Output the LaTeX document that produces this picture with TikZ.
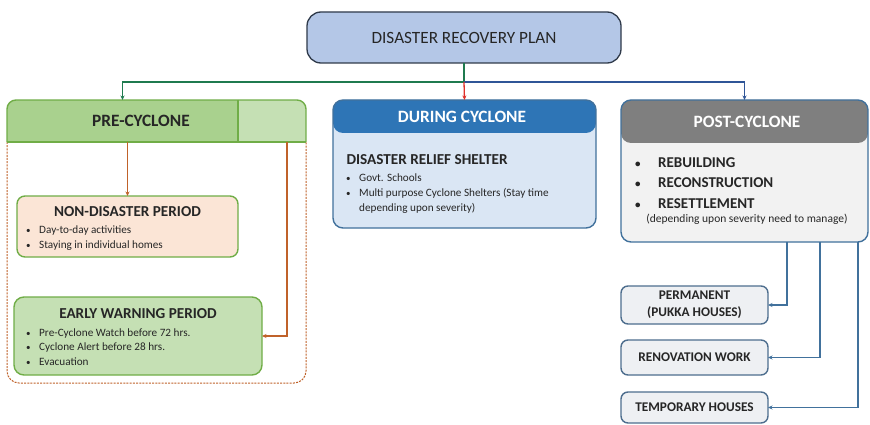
\documentclass[tikz,border=0pt]{standalone}
\usepackage{fontspec}
\setmainfont{Carlito}
\usetikzlibrary{arrows.meta}
\definecolor{txt}{HTML}{262626}
\definecolor{titlefill}{HTML}{B4C7E7}
\definecolor{titleline}{HTML}{2F3A4A}
\definecolor{grnmain}{HTML}{A9D18E}
\definecolor{grnlight}{HTML}{C5E0B4}
\definecolor{grnline}{HTML}{70AD47}
\definecolor{peach}{HTML}{FBE5D6}
\definecolor{rust}{HTML}{C0622A}
\definecolor{bluehead}{HTML}{2E75B6}
\definecolor{bluebody}{HTML}{DAE6F4}
\definecolor{blueline}{HTML}{41719C}
\definecolor{grayhead}{HTML}{7F7F7F}
\definecolor{graybody}{HTML}{F2F2F2}
\definecolor{smallfill}{HTML}{EEF0F3}
\definecolor{smallline}{HTML}{4E6E8E}
\definecolor{linkgreen}{HTML}{1F7A4F}
\definecolor{linkred}{HTML}{E0302A}
\definecolor{linkblue}{HTML}{2F5597}
\newcommand\listdot{\makebox[13pt][l]{{\fontsize{9}{9}\selectfont\textbullet}}}
\newcommand\bigdot{\makebox[23pt][l]{{\fontsize{11}{11}\selectfont\textbullet}}}

\begin{document}
\begin{tikzpicture}[x=1pt,y=-1pt,
  link/.style={line width=1.3pt,-{Stealth[length=4.5pt,width=4pt]}},
  plain/.style={rectangle, inner sep=0pt, outer sep=0pt},
  hdr/.style={font=\fontsize{17.3}{20}\selectfont\bfseries},
  boxttl/.style={font=\fontsize{15.2}{18}\selectfont\bfseries, text=txt},
  lst/.style={font=\fontsize{11.2}{14.5}\selectfont, text=txt, align=left, inner sep=0pt, anchor=base west},
  small/.style={plain, draw=smallline, fill=smallfill, line width=1.4pt, rounded corners=7pt,
    minimum width=147pt, font=\fontsize{13.3}{17}\selectfont\bfseries, text=txt, align=center}
]
\useasboundingbox (0,0) rectangle (870,425);
\fill[white] (0,0) rectangle (870,425);

% top box
\node[plain, draw=titleline, fill=titlefill, line width=1.3pt, rounded corners=14pt,
  minimum width=314pt, minimum height=51pt, font=\fontsize{17.2}{20}\selectfont, text=txt]
  (title) at (464,37.5) {DISASTER RECOVERY PLAN};

% pre-cyclone column
\node[plain, minimum width=231pt, minimum height=42pt] (prehead) at (122.5,121) {};
\node[plain, minimum width=68pt, minimum height=42pt] (preside) at (272,121) {};
\draw[rust, line width=1pt, dash pattern=on 2pt off 1.2pt, rounded corners=12pt]
  (prehead.south west) -- (7,383) -- (306,383) -- (preside.south east);
\begin{scope}
  \clip[rounded corners=9pt] (prehead.north west) rectangle (306,170);
  \fill[grnmain] (prehead.north west) rectangle (prehead.south east);
  \fill[grnlight] (preside.north west) rectangle (preside.south east);
\end{scope}
\draw[grnline, line width=1.4pt, rounded corners=9pt]
  (prehead.south west) -- (prehead.north west) -- (preside.north east) -- (preside.south east);
\draw[grnline, line width=1.4pt] (prehead.south west) -- (preside.south east);
\draw[grnline, line width=1.4pt] (preside.north west) -- (preside.south west);
\node[hdr, text=txt] (pretext) at (141,121) {PRE-CYCLONE};

\node[plain, draw=grnline, fill=peach, line width=1.4pt, rounded corners=8pt,
  minimum width=221pt, minimum height=61pt] (nondis) at (127.5,226.5) {};
\node[boxttl] (nondisttl) at (127.5,212) {NON-DISASTER PERIOD};
\node[lst] (nondislst) at (26,248) {\listdot Day-to-day activities\\\listdot Staying in individual homes};

\node[plain, draw=grnline, fill=grnlight, line width=1.4pt, rounded corners=10pt,
  minimum width=248pt, minimum height=78pt] (early) at (138,336) {};
\node[boxttl] (earlyttl) at (138,314) {EARLY WARNING PERIOD};
\node[lst] (earlylst) at (26,365) {\listdot Pre-Cyclone Watch before 72 hrs.\\\listdot Cyclone Alert before 28 hrs.\\\listdot Evacuation};

% during-cyclone column
\node[plain, draw=blueline, fill=bluebody, line width=1.4pt, rounded corners=10pt,
  minimum width=263pt, minimum height=128pt,
  path picture={\fill[bluehead] (path picture bounding box.north west) rectangle ([yshift=-33pt]path picture bounding box.north east);}]
  (during) at (464.5,164) {};
\node[hdr, text=white] (durtext) at (462,117) {DURING CYCLONE};
\node[boxttl, anchor=west] (shelter) at (343,160) {DISASTER RELIEF SHELTER};
\node[lst] (shelterlst) at (346,211) {\listdot Govt. Schools\\\listdot Multi purpose Cyclone Shelters (Stay time\\\hphantom{\listdot}depending upon severity)};

% post-cyclone column
\node[plain, draw=blueline, fill=graybody, line width=1.4pt, rounded corners=10pt,
  minimum width=247pt, minimum height=142pt,
  path picture={\fill[grayhead] (path picture bounding box.north west) rectangle ([yshift=-43pt]path picture bounding box.north east);}]
  (post) at (744.5,171) {};
\node[hdr, text=white] (posttext) at (747,122) {POST-CYCLONE};
\node[font=\fontsize{15}{20.5}\selectfont\bfseries, text=txt, align=left, inner sep=0pt, anchor=base west]
  (postlst) at (635,208) {\bigdot REBUILDING\\\bigdot RECONSTRUCTION\\\bigdot RESETTLEMENT};
\node[font=\fontsize{11.5}{13}\selectfont, text=txt] (postnote) at (747,219) {(depending upon severity need to manage)};

\node[small, minimum height=38pt] (perm) at (694.5,305) {PERMANENT\\(PUKKA HOUSES)};
\node[small, minimum height=35pt] (renov) at (694.5,357.5) {RENOVATION WORK};
\node[small, minimum height=31pt] (temp) at (694.5,407.5) {TEMPORARY HOUSES};

% connectors
\draw[linkgreen, line width=1.3pt] (title.south) -- ++(0,19) coordinate (split);
\draw[link, linkblue] (split) -| (post.north);
\draw[link, linkgreen] (split) -| (prehead.north);
\draw[link, linkred] (split) -- (during.north);

\draw[link, rust, line width=1.2pt] (prehead.south -| nondis.north) -- (nondis.north);
\coordinate (prehook) at (287,142);
\draw[link, rust, line width=1.2pt] (prehook) |- (early.east);

\coordinate (pd1) at (787,242);
\coordinate (pd2) at (820,242);
\coordinate (pd3) at (858,242);
\draw[link, blueline] (pd1) |- (perm.east);
\draw[link, blueline] (pd2) |- (renov.east);
\draw[link, blueline] (pd3) |- (temp.east);
\end{tikzpicture}
\end{document}
